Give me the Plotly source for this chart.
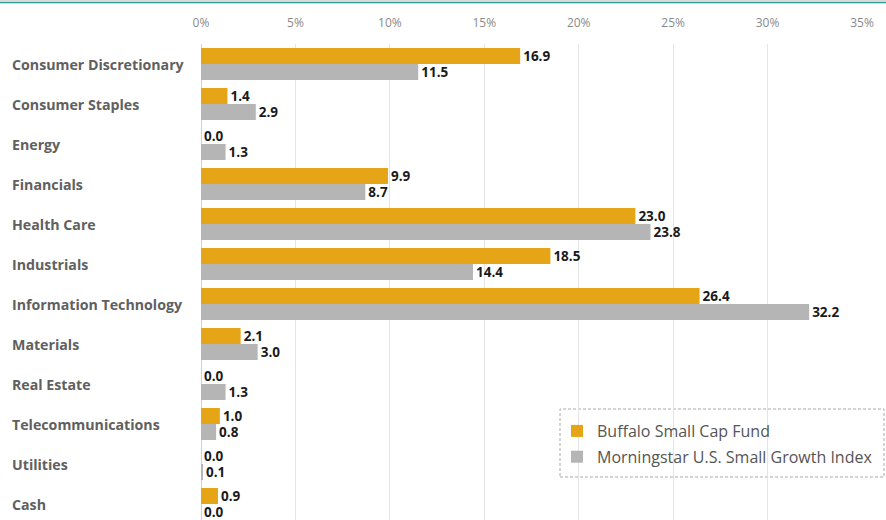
import plotly.graph_objects as go

categories = ["Consumer Discretionary", "Consumer Staples", "Energy", "Financials",
              "Health Care", "Industrials", "Information Technology", "Materials",
              "Real Estate", "Telecommunications", "Utilities", "Cash"]
fund = [16.9, 1.4, 0.0, 9.9, 23.0, 18.5, 26.4, 2.1, 0.0, 1.0, 0.0, 0.9]
index = [11.5, 2.9, 1.3, 8.7, 23.8, 14.4, 32.2, 3.0, 1.3, 0.8, 0.1, 0.0]
tick_vals = [0, 5, 10, 15, 20, 25, 30, 35]
tick_text = ["0%", "5%", "10%", "15%", "20%", "25%", "30%", "35%"]
series_names = ["Buffalo Small Cap Fund", "Morningstar U.S. Small Growth Index"]
colors = ["#E5A517", "#B5B5B5"]

W, H = 886, 520
L, R, T, B = 201, 24, 44, 0
pw, ph = W - L - R, H - T - B

fig = go.Figure()
for i, (name, vals, col) in enumerate(zip(series_names, [fund, index], colors)):
    fig.add_trace(go.Bar(
        name=name, x=vals, y=categories, orientation="h",
        marker=dict(color=col, line=dict(width=0)),
        text=[f"{v:.1f}" for v in vals], textposition="outside",
        constraintext="none",
        textfont=dict(family="Open Sans", size=13.5, color="#1a1a1a", weight="bold"),
        cliponaxis=False, legendgroup=f"g{i}",
    ))

for c in categories:
    fig.add_annotation(x=-(L - 10) / pw, xref="paper", y=c, yref="y",
                       text=c, showarrow=False, xanchor="left",
                       font=dict(family="Open Sans", size=14.2, color="#606060", weight="bold"))

# top decorative lines
fig.add_shape(type="line", xref="paper", yref="paper",
              x0=-L / pw, x1=1 + R / pw, y0=1 + 41.5 / ph, y1=1 + 41.5 / ph,
              line=dict(color="#2a9a8c", width=1.5))
fig.add_shape(type="line", xref="paper", yref="paper",
              x0=-L / pw, x1=1 + R / pw, y0=1 + 43.5 / ph, y1=1 + 43.5 / ph,
              line=dict(color="#d8d8d8", width=1.5))

# dashed legend box
fig.add_shape(type="rect", xref="paper", yref="paper",
              x0=(560 - L) / pw, x1=(884 - L) / pw,
              y0=1 - (477 - T) / ph, y1=1 - (409 - T) / ph,
              line=dict(color="#aaaaaa", width=1, dash="3px,2px"),
              fillcolor="white", layer="below")

fig.update_layout(
    width=W, height=H,
    margin=dict(l=L, r=R, t=T, b=B, pad=0),
    paper_bgcolor="white", plot_bgcolor="white",
    barmode="group", bargap=0.2, bargroupgap=0,
    font=dict(family="Open Sans"),
    xaxis=dict(side="top", range=[0, 35], tickvals=tick_vals, ticktext=tick_text,
               showgrid=True, gridcolor="#e4e4e4", gridwidth=1,
               zeroline=True, zerolinecolor="#d0d0d0", zerolinewidth=1,
               tickfont=dict(family="Open Sans", size=12, color="#8a8a8a"),
               ticks="", showline=False, ticklabelstandoff=14),
    yaxis=dict(categoryorder="array", categoryarray=categories,
               range=[11.4, -0.5], showticklabels=False, showgrid=False,
               zeroline=False, ticks=""),
    legend=dict(x=(557 - L) / pw, y=1 - (414 - T) / ph, xanchor="left", yanchor="top",
                bgcolor="rgba(0,0,0,0)", borderwidth=0,
                font=dict(family="Open Sans", size=16, color="#555555"),
                tracegroupgap=2),
    showlegend=True,
)

fig.write_html("out.html", config={"displayModeBar": False},
               post_script="document.body.style.margin='0';document.body.style.overflow='hidden';")
